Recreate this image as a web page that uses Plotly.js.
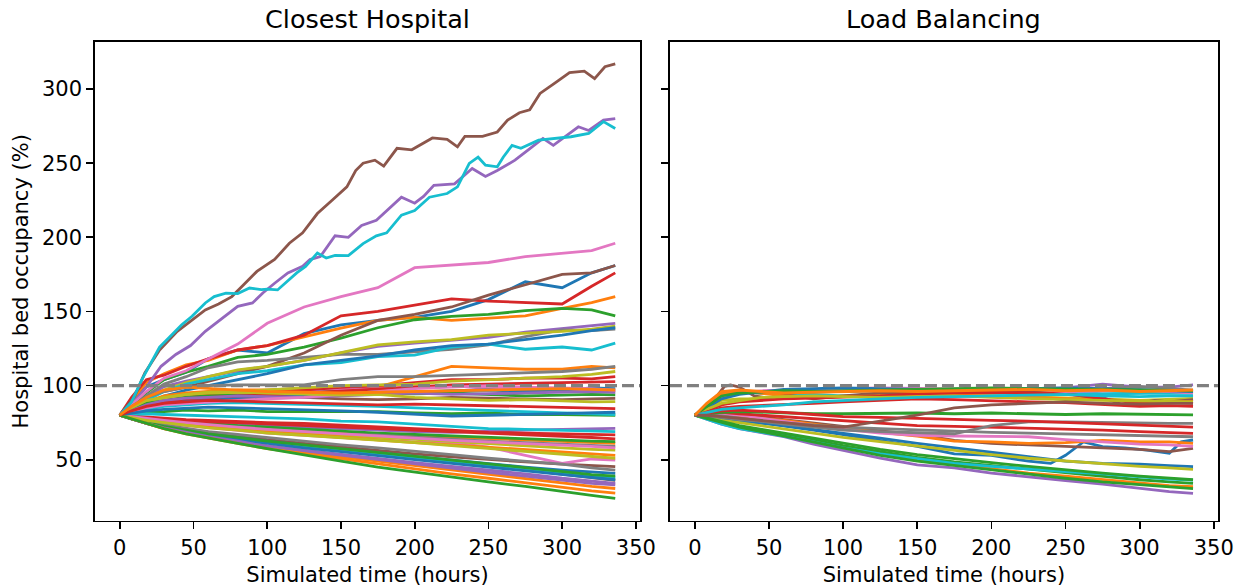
<!DOCTYPE html>
<html>
<head>
<meta charset="utf-8">
<script src="https://cdn.plot.ly/plotly-3.0.1.min.js"></script>
<style>
  html, body { margin: 0; padding: 0; background: #ffffff; }
  #chart { width: 1237px; height: 588px; }
</style>
</head>
<body>
<div id="chart"></div>
<script>
// Hospital bed occupancy (%) over two simulated weeks, one line per hospital,
// under two ambulance dispatch policies.

const panelTitles = ['Closest Hospital', 'Load Balancing'];
const xTickValues = [0, 50, 100, 150, 200, 250, 300, 350];
const yTickValues = [50, 100, 150, 200, 250, 300];
const capacityLevel = 100;

// Sampling times (hours) shared by most hospitals
const gridHours = [0, 8, 18, 30, 45, 60, 80, 100, 125, 150, 175, 200, 225, 250, 275, 300, 320, 336];

// ---- Closest Hospital: the three most overloaded hospitals, finer sampling ----
const closestBrownHours = [0, 5, 10, 17, 27, 39, 49, 58, 67, 76, 84, 93, 105, 115, 124, 134, 144, 154, 160, 165, 173, 179, 188, 198, 212, 222, 229, 234, 246, 256, 263, 271, 278, 285, 295, 305, 315, 322, 329, 336];
const closestBrownOcc   = [80, 86, 92.7, 108.5, 124, 136.6, 144.4, 151, 155, 160, 168, 177, 185, 196, 203, 216, 225, 234, 245, 250, 252, 248, 260, 259, 267, 266, 261, 268, 268, 271, 279, 284, 286, 297, 304, 311, 312, 307, 315, 317];

const closestPurpleHours = [0, 8, 18, 28, 38, 48, 58, 68, 80, 90, 97, 105, 114, 124, 129, 136, 146, 155, 164, 174, 183, 191, 200, 206, 213, 227, 239, 248, 256, 268, 277, 287, 294, 302, 311, 318, 328, 336];
const closestPurpleOcc   = [80, 87, 99, 113, 121, 127, 136.6, 144.4, 153.4, 155.7, 162.4, 169, 176, 180.4, 185, 187, 201, 200, 208, 211.5, 219.7, 227, 223, 227.6, 235, 236, 246.4, 241, 245, 252, 259, 266.7, 262, 268, 274.5, 272, 279, 280];

const closestCyanHours = [0, 8, 15, 22, 27, 35, 42, 49, 58, 64, 72, 80, 88, 96, 100, 107, 113, 120, 126, 134, 140, 146, 155, 165, 174, 181, 191, 200, 210, 222, 229, 237, 243, 248, 256, 260, 266, 272, 284, 294, 306, 318, 328, 336];
const closestCyanOcc   = [80, 89, 104, 117, 126, 134, 141, 146.7, 155.7, 160, 162.4, 162, 165.8, 164.7, 165, 164.5, 170, 176, 180.4, 189.4, 186, 187.8, 187.6, 195.7, 201, 203, 214.9, 218, 227, 229.5, 234, 249.8, 254, 248.6, 247.5, 254, 262, 260, 265.5, 266.7, 267.8, 270, 278, 273.4];

// ---- Closest Hospital: remaining hospitals on the shared grid ----
const closestGridColors = [
  'blue', 'orange', 'green', 'red', 'purple', 'brown', 'pink', 'grey', 'olive', 'cyan',
  'blue', 'orange', 'green', 'red', 'purple', 'brown', 'pink', 'grey', 'olive', 'cyan',
  'blue', 'orange', 'green', 'red', 'purple', 'brown', 'pink', 'grey', 'olive', 'cyan',
  'blue', 'orange', 'green', 'red', 'purple', 'brown', 'pink', 'grey', 'olive', 'cyan',
  'blue', 'orange', 'green', 'red', 'purple', 'pink', 'olive', 'blue', 'orange', 'green',
  'red', 'orange'
];
const closestGridOcc = [
  [80, 90, 99, 104, 109, 118, 124, 122, 135, 141, 144, 146, 150, 158, 170, 166, 176, 181],
  [80, 90, 102, 108, 114, 117, 124, 127, 133, 138.7, 144, 146, 144, 145.5, 147, 152, 156, 160],
  [80, 86, 95, 104, 109, 113, 119, 121, 126, 132, 139, 144.4, 146.6, 148, 150.5, 152, 151, 147],
  [80, 92, 104, 107, 113, 118, 124, 127, 134, 147, 150, 154, 158.5, 157, 156, 155, 167, 176],
  [80, 84, 92, 99.3, 103, 106, 110, 113, 117, 122, 126.4, 128.6, 130.5, 132.5, 136, 138.5, 140.5, 142],
  [80, 86, 92, 96, 99, 103, 108, 113, 122, 134, 144, 148, 153, 161, 168, 175, 176, 181],
  [80, 87, 96, 105, 110, 118, 128, 142, 153, 160, 166, 179.5, 181, 183, 187, 189, 191, 196],
  [80, 85, 93, 101, 106, 112, 116, 117, 119, 121, 121, 122.5, 124.5, 127.5, 133, 137.6, 137, 138],
  [80, 84, 91, 97, 102, 106, 110.6, 113, 117, 122, 127.5, 129.5, 131, 134, 135, 136.5, 138, 140],
  [80, 83, 90, 96, 101, 104, 108, 110, 114, 115.5, 119.5, 120.5, 126, 128, 124.5, 126, 124, 128.6],
  [80, 83, 88, 93, 97, 100, 104, 108, 114, 117, 120, 124, 127, 128, 131, 134, 137, 139],
  [80, 84, 89, 93, 95, 96, 97, 97, 98, 99, 99, 106, 113, 112, 111, 111, 113, 112],
  [80, 81, 82, 82.5, 83.5, 83, 83.5, 82.5, 82.5, 82, 82.5, 81.5, 81, 81.5, 80.5, 80.5, 80, 80],
  [80, 83, 87, 90, 92, 94, 95, 96, 97, 98, 100, 102, 104, 104, 105, 105, 104.5, 106],
  [80, 79, 78, 77, 76, 75, 74, 73, 72, 71, 69.5, 69, 68.5, 69.5, 70, 70.5, 71, 71.2],
  [80, 82, 85, 87.5, 89, 90, 91, 91.5, 92, 91, 90.5, 91, 92, 91.5, 91, 90.5, 91, 91.4],
  [80, 83, 86, 89, 91, 92, 93, 94, 95, 97, 98, 99, 100, 98, 99, 97.5, 97, 96],
  [80, 86, 92, 96, 99, 100, 100.5, 100.5, 100.5, 104, 106, 106, 107, 108, 109, 109.5, 111, 113],
  [80, 84, 89, 92, 94, 95.5, 96, 97, 98.5, 100, 100.5, 101, 103, 104, 105, 106, 107.5, 109.5],
  [80, 82, 84, 86, 87, 88, 88.5, 88, 87.5, 87, 86, 85, 84, 83, 82, 81.5, 81, 80.5],
  [80, 83, 86, 88, 90, 91, 92, 93, 94, 95, 96, 95.5, 96.5, 97, 96, 97, 98.5, 98],
  [80, 79, 77.5, 76, 74.5, 73, 71.5, 70, 69, 68, 67, 66, 65, 64, 63, 62, 61.5, 61],
  [80, 79, 78, 77, 75.5, 74.5, 73, 72, 70.5, 69, 68, 67, 66, 65, 64, 63, 62.5, 62.2],
  [80, 79.5, 78.5, 78, 77, 76.5, 75.5, 75, 74.5, 73.5, 72, 71, 70, 68.5, 68, 67.5, 67, 66.7],
  [80, 77.5, 74.5, 71.5, 68.5, 65.5, 62.5, 59.5, 56.5, 53.5, 51, 48, 45.5, 43, 40.5, 37.5, 35.5, 34],
  [80, 78, 75.5, 73, 70.5, 68.5, 66, 63.5, 61, 58.5, 56, 54, 52, 50, 48.5, 47, 46, 45.3],
  [80, 78, 76, 74.5, 73, 71.5, 70, 68, 66.5, 65, 63, 62, 61.5, 58.5, 53, 47.5, 50.5, 49.8],
  [80, 78.5, 77, 75.5, 74, 72.5, 71, 69.5, 68, 67, 66.5, 65, 63.5, 62.5, 61.5, 60.5, 59.5, 59],
  [80, 78.5, 77, 75.5, 74, 72.5, 71, 69.5, 68, 66.5, 65, 63.5, 62, 60.5, 59.5, 58, 57, 56.5],
  [80, 80.5, 81, 80.5, 80, 79.5, 79, 78, 77.5, 76, 75.5, 74, 72.5, 71, 70.5, 70, 69.5, 69],
  [80, 77.5, 75, 72.5, 70, 67.5, 65, 62.5, 59.5, 57, 54.5, 52, 49.5, 47, 45, 43, 41.5, 40.8],
  [80, 78, 76.5, 75, 73.5, 72, 70, 68.5, 67, 65, 63, 61.5, 60, 58.5, 57, 55, 54, 53],
  [80, 84, 88, 90, 92, 93, 93.5, 94, 95, 96, 95, 94.5, 95, 94, 93, 93.5, 94, 93.7],
  [80, 83, 86, 89, 91, 92, 93, 93.5, 95, 96, 98, 99, 100.5, 101, 101.5, 102, 102.5, 102.7],
  [80, 83, 87, 90, 91.5, 92, 93, 92.5, 92, 93, 94, 95, 94, 94.5, 95, 96, 96, 95.5],
  [80, 78, 75, 72.5, 70, 67.5, 65, 62.5, 59.5, 57, 54.5, 52, 49, 46, 43, 40, 37.5, 36],
  [80, 82, 85, 87, 88, 89, 90, 91, 92, 94, 96, 98, 99, 100, 99, 98.5, 98, 97],
  [80, 78, 76, 73.5, 71, 69, 67, 65, 62.5, 60, 58, 56, 53.5, 51, 49, 47, 44.5, 43],
  [80, 85, 90, 92, 94, 95, 95.5, 95, 94, 93.5, 94, 92, 91, 90, 90.5, 89.5, 89, 89.2],
  [80, 77.5, 75, 72, 69.5, 67, 64.5, 62, 59, 56.5, 54, 51.5, 49, 46.5, 44, 41, 39.5, 38],
  [80, 77.5, 74.5, 71.5, 68.5, 66, 63.5, 61, 58, 55.5, 52.5, 50, 47.5, 45, 42.5, 40, 38, 36.5],
  [80, 77.5, 74.5, 71, 68, 65, 62, 58.5, 55, 52, 49, 46, 43, 40, 37, 34, 32, 30.6],
  [80, 77.5, 75, 72.5, 70, 67.5, 65, 62.5, 60, 57.5, 55, 52.5, 50, 47, 44.5, 42, 40, 39],
  [80, 79, 78, 77, 76, 75.5, 75, 74, 73, 72, 71, 70, 69, 68, 67, 66, 65, 64],
  [80, 77.5, 74.5, 71.5, 68.5, 65.5, 62.5, 59, 56, 53, 50, 47, 44, 41.5, 39, 36, 34, 33],
  [80, 79, 78, 76.5, 75, 73.5, 72, 70.5, 69, 67, 65.5, 64.5, 63, 62, 61, 60, 59, 58],
  [80, 78.5, 76.5, 75, 73, 71.5, 70, 68, 66.5, 65, 63, 61.5, 59.5, 57.5, 55.5, 53.5, 52, 51],
  [80, 81.5, 83, 84, 85, 85.5, 85, 84.5, 84, 83, 82, 81, 79.5, 80, 80.5, 81, 81.5, 82],
  [80, 77.5, 74.5, 71, 67.5, 64.5, 61, 57.5, 54, 50.5, 47, 43.5, 40.5, 37.5, 34.5, 31, 29, 27.5],
  [80, 77.5, 74.5, 71, 67.5, 64.5, 61, 57.5, 53, 49, 45, 41.5, 38.5, 35, 32, 28.5, 26, 24],
  [80, 83, 86, 88, 89, 90, 89.5, 89, 88.5, 88, 87, 87.5, 87, 86, 85.5, 85, 85, 84.5],
  [80, 86, 92, 97, 99, 98, 97, 96, 95.5, 95, 95.5, 96, 96.5, 97, 97, 98, 97.5, 97]
];

// ---- Load Balancing: hospitals with an irregular path, own sampling ----
const balancedBlueHours = [0, 8, 18, 30, 45, 60, 80, 100, 125, 150, 175, 200, 225, 240, 250, 262, 275, 290, 305, 320, 328, 336];
const balancedBlueOcc   = [80, 79, 78, 76.5, 75, 73, 70, 67, 63, 59, 54, 53, 49, 47.5, 53, 62, 58.8, 58, 56.5, 54.3, 62, 63.3];

const balancedBrownHours = [0, 8, 15, 20, 24, 30, 40, 50, 60, 80, 100, 125, 150, 175, 200, 225, 250, 275, 290, 300, 310, 320, 336];
const balancedBrownOcc   = [80, 85, 93, 99.5, 100.5, 99, 93, 91.5, 94, 91, 93, 95, 95.5, 95, 96, 96.5, 94, 92, 86.5, 88, 90, 89, 90.5];

// ---- Load Balancing: remaining hospitals on the shared grid ----
const balancedGridColors = [
  'purple', 'orange', 'green', 'cyan', 'green', 'blue', 'olive', 'brown', 'orange', 'pink',
  'red', 'grey', 'green', 'grey', 'red', 'green',
  'purple', 'grey', 'cyan', 'olive', 'orange', 'red', 'pink', 'blue', 'olive', 'green',
  'red', 'cyan', 'brown', 'orange'
];
const balancedGridOcc = [
  [80, 77.5, 74, 71, 68.5, 65.5, 60.5, 56.3, 51, 46.5, 44.5, 41, 38.3, 36, 33.5, 30.5, 28.5, 27.3],
  [80, 78, 75, 72, 69.5, 66.5, 62, 58, 53.5, 49.5, 47, 44, 41, 39, 36.5, 34, 32.5, 31.8],
  [80, 78, 75.5, 72.5, 70, 67, 63, 59.5, 55.5, 51.5, 48.5, 46, 43.5, 41, 39, 36.5, 35, 34],
  [80, 77.5, 74, 71, 68.5, 66, 62, 58, 54, 50.5, 47.5, 45.5, 43.5, 42, 40.5, 38.5, 37, 36.3],
  [80, 78, 75, 72, 69, 66, 61.5, 57.5, 53, 49, 46, 43, 40, 37.5, 35, 33, 31.5, 30.5],
  [80, 79, 77.5, 76, 74.5, 73, 70.5, 68, 64.5, 61, 58, 55.5, 52, 49, 47.5, 47, 46, 45.3],
  [80, 78.5, 76.5, 75, 73, 71, 68, 65, 62, 59, 56, 53.5, 51, 49, 47, 45.5, 44.5, 43.5],
  [80, 80.5, 81, 80, 79, 77, 75, 72.5, 69.5, 67, 63, 61, 60, 59, 58, 57, 55.5, 57.7],
  [80, 80, 79.5, 79, 78, 76.5, 74, 71.5, 68.5, 66, 62.5, 62, 61, 61.5, 63, 62, 62, 61],
  [80, 80.5, 81, 80, 78, 76, 73, 70.5, 68, 66.5, 66, 66, 65.5, 63.5, 62, 60.5, 60, 59],
  [80, 81, 82, 81, 80, 79, 77.5, 76, 74.5, 73, 72.5, 72, 71.5, 70.5, 70, 69, 68.5, 67.8],
  [80, 80, 79.5, 78, 76, 74, 72, 70, 69, 68, 67.5, 73, 75.5, 75.5, 75, 75, 74.5, 74.5],
  [80, 81, 82, 82.5, 82, 81.5, 81, 81, 81.5, 81.5, 81, 81.5, 81, 80.5, 81, 80.5, 80.5, 80.2],
  [80, 79.5, 78.5, 77, 76, 75, 73.5, 72, 71, 70, 69, 68.5, 68, 67.5, 67, 66.5, 66, 65.5],
  [80, 81.5, 83, 83.5, 83, 82, 80.5, 79, 78.5, 78, 77.5, 76.5, 76, 75, 74, 73, 72.5, 72],
  [80, 78, 75.5, 73, 70.5, 68, 64.5, 61, 57, 53.5, 50.5, 48, 45.5, 43, 41, 39, 37.5, 36.5],
  [80, 86, 93, 95, 95.5, 96, 96.5, 97, 97, 97.5, 97, 97.5, 98, 98.5, 101, 99, 99, 100.5],
  [80, 87, 95, 96, 95, 95.5, 96, 96, 96.5, 97, 97.5, 97, 97.5, 98, 98, 99.5, 98, 97],
  [80, 87, 94, 95.5, 95, 94, 94, 93, 93.5, 94, 94.5, 95, 94.5, 95.5, 94.5, 95, 95, 94.8],
  [80, 84, 90, 91, 91, 92, 92.5, 93, 93.5, 94, 93.5, 93, 92.5, 92, 91, 90, 91, 91.4],
  [80, 86, 94, 96.5, 95, 93, 92, 92.5, 93, 92.5, 94, 93, 92, 91, 90, 89.5, 89, 89.2],
  [80, 83, 87, 89, 90, 91, 91.5, 92, 93, 94.5, 95, 95.5, 95, 94.5, 91, 88, 88.5, 88],
  [80, 86, 92, 95, 96.5, 97, 97.5, 98, 98.5, 98, 97.5, 97.5, 98, 96, 96.5, 97, 96, 95],
  [80, 85, 91, 94, 96, 97.5, 98, 98.5, 98, 97.5, 97, 97.5, 98, 98.5, 98, 97, 96.5, 96],
  [80, 84, 88, 90, 92, 92.5, 93, 92.5, 92, 92.5, 93, 92, 91, 90.5, 90, 89.5, 89, 89],
  [80, 86, 93, 95, 96, 96.5, 96, 96.5, 97, 97.5, 98, 98.5, 98, 98, 97.5, 97, 97, 96.5],
  [80, 82, 85, 86, 86.5, 87, 88, 89, 90, 91, 90.5, 90, 89, 88.5, 87, 86, 86.5, 86],
  [80, 82, 84, 85, 86, 87, 89, 90, 91, 92, 92.5, 93, 93.5, 94, 93, 92.5, 93, 93],
  [80, 80, 79, 78, 76.5, 75, 73, 72, 76, 80, 85, 87, 88, 89, 88, 87.5, 88, 88],
  [80, 88, 96, 97, 96, 95, 95.5, 96, 96.5, 96, 96.5, 97, 97.5, 96.5, 97, 96, 96.5, 97]
];

// matplotlib "tab10" cycle
const palette = {
  blue: '#1f77b4', orange: '#ff7f0e', green: '#2ca02c', red: '#d62728', purple: '#9467bd',
  brown: '#8c564b', pink: '#e377c2', grey: '#7f7f7f', olive: '#bcbd22', cyan: '#17becf'
};

const FONT = 'DejaVu Sans, Liberation Sans, sans-serif';
const LINE_W = 2.8;

function lineTrace(hours, occ, colorName, panel) {
  return {
    type: 'scatter', mode: 'lines',
    x: hours, y: occ,
    xaxis: panel === 1 ? 'x' : 'x2',
    yaxis: panel === 1 ? 'y' : 'y2',
    line: { color: palette[colorName], width: LINE_W },
    hoverinfo: 'skip', showlegend: false
  };
}

const traces = [];
// Closest Hospital panel
closestGridOcc.forEach((occ, i) => {
  if (i === 5) traces.push(lineTrace(closestBrownHours, closestBrownOcc, 'brown', 1));
  if (i === 9) traces.push(lineTrace(closestCyanHours, closestCyanOcc, 'cyan', 1));
  if (i === 4) traces.push(lineTrace(closestPurpleHours, closestPurpleOcc, 'purple', 1));
  traces.push(lineTrace(gridHours, occ, closestGridColors[i], 1));
});
// Load Balancing panel
balancedGridOcc.forEach((occ, i) => {
  if (i === 5) traces.push(lineTrace(balancedBlueHours, balancedBlueOcc, 'blue', 2));
  if (i === 20) traces.push(lineTrace(balancedBrownHours, balancedBrownOcc, 'brown', 2));
  traces.push(lineTrace(gridHours, occ, balancedGridColors[i], 2));
});

const xRange = [-16.8, 352.8];
const yRange = [8.9, 331.7];
const xDomL = [0.0768, 0.5174];
const xDomR = [0.5416, 0.9846];
const yDom = [0.1145, 0.9286];

function xAxis(domain, anchor) {
  return {
    domain: domain, anchor: anchor, range: xRange,
    tickmode: 'array', tickvals: xTickValues, ticktext: xTickValues.map(String),
    ticks: 'outside', ticklen: 7, tickwidth: 1.7, tickcolor: '#000',
    showline: true, linecolor: '#000', linewidth: 1.7, mirror: true,
    showgrid: false, zeroline: false,
    tickfont: { family: FONT, size: 21, color: '#000' },
    title: { text: 'Simulated time (hours)', font: { family: FONT, size: 21, color: '#000' }, standoff: 9 }
  };
}
function yAxis(anchor, labels) {
  const ax = {
    domain: yDom, anchor: anchor, range: yRange,
    tickmode: 'array', tickvals: yTickValues, ticktext: yTickValues.map(String),
    ticks: 'outside', ticklen: 7, tickwidth: 1.7, tickcolor: '#000',
    showline: true, linecolor: '#000', linewidth: 1.7, mirror: true,
    showgrid: false, zeroline: false, showticklabels: labels,
    tickfont: { family: FONT, size: 21, color: '#000' }
  };
  if (labels) {
    ax.title = { text: 'Hospital bed occupancy (%)', font: { family: FONT, size: 21, color: '#000' }, standoff: 8 };
  }
  return ax;
}

const dashedCapacity = (xref, yref) => ({
  type: 'line', layer: 'above',
  xref: xref + ' domain', x0: 0, x1: 1,
  yref: yref, y0: capacityLevel, y1: capacityLevel,
  line: { color: '#808080', width: 3.2, dash: '12px,5px' }
});

const layout = {
  width: 1237, height: 588,
  margin: { l: 0, r: 0, t: 0, b: 0 },
  paper_bgcolor: '#ffffff', plot_bgcolor: '#ffffff',
  font: { family: FONT, color: '#000' },
  showlegend: false,
  xaxis: xAxis(xDomL, 'y'),
  yaxis: yAxis('x', true),
  xaxis2: xAxis(xDomR, 'y2'),
  yaxis2: yAxis('x2', false),
  shapes: [dashedCapacity('x', 'y'), dashedCapacity('x2', 'y2')],
  annotations: panelTitles.map((t, i) => ({
    text: t, showarrow: false,
    xref: 'paper', yref: 'paper',
    x: i === 0 ? (xDomL[0] + xDomL[1]) / 2 : (xDomR[0] + xDomR[1]) / 2,
    y: yDom[1], xanchor: 'center', yanchor: 'bottom', yshift: 6,
    font: { family: FONT, size: 25.5, color: '#000' }
  }))
};

Plotly.newPlot('chart', traces, layout, { displayModeBar: false, staticPlot: true });
</script>
</body>
</html>
